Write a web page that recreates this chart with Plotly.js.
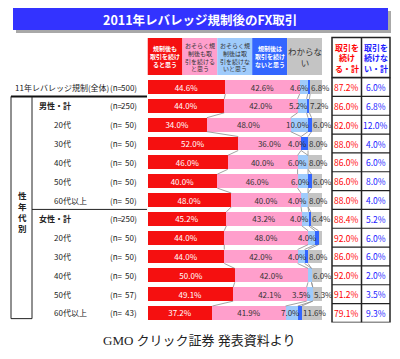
<!DOCTYPE html>
<html>
<head>
<meta charset="utf-8">
<script src="https://cdn.plot.ly/plotly-3.0.1.min.js"></script>
<style>html,body{margin:0;padding:0;background:#fff;}#chart{width:400px;height:359px;}</style>
</head>
<body>
<div id="chart"></div>
<script>
// ---- data ----
const categories = ['11年レバレッジ規制(全体)','男性・計','20代','30代','40代','50代','60代以上','女性・計','20代','30代','40代','50代','60代以上'];
const sampleN = [500,250,50,50,50,50,50,250,50,50,50,57,43];
const willContinue      = [44.6,44.0,34.0,52.0,46.0,40.0,48.0,45.2,44.0,44.0,50.0,49.1,37.2];
const probablyContinue  = [42.6,42.0,48.0,36.0,40.0,46.0,40.0,43.2,48.0,42.0,42.0,42.1,41.9];
const probablyStop      = [4.6,5.2,10.0,0,6.0,6.0,4.0,4.0,4.0,4.0,2.0,3.5,7.0];
const willStop          = [1.4,1.6,2.0,4.0,0,2.0,0,1.2,2.0,2.0,0,0,2.3];
const dontKnow          = [6.8,7.2,6.0,8.0,8.0,6.0,8.0,6.4,2.0,8.0,6.0,5.3,11.6];
const continueTotal     = [87.2,86.0,82.0,88.0,86.0,86.0,88.0,88.4,92.0,86.0,92.0,91.2,79.1];
const stopTotal         = [6.0,6.8,12.0,4.0,6.0,8.0,4.0,5.2,6.0,6.0,2.0,3.5,9.3];
const seriesNames = ['規制後も<br>取引を続け<br>ると思う','おそらく規<br>制後も取<br>引を続ける<br>と思う','おそらく規<br>制後は取<br>引を続けな<br>いと思う','規制後は<br>取引を続け<br>ないと思う','わからな<br>い'];
const totalHeaders = ['取引を<br>続け<br>る・計','取引を<br>続けな<br>い・計'];
const titleText = '2011年レバレッジ規制後のFX取引';
const sideLabel = '性<br>年<br>代<br>別';
const caption = 'GMO クリック証券 発表資料より';

// ---- styling ----
const FONT = '"Noto Sans CJK JP", "Noto Sans", sans-serif';
const colors = ['#f51010','#ff9fcc','#9fcbfb','#3366ff','#c4c4c4'];
const headerText = ['#ffffff','#333333','#333333','#ffffff','#333333'];
const labelColors = ['#ffffff','#333333','#333333','#333333','#333333'];
const series = [willContinue, probablyContinue, probablyStop, willStop, dontKnow];
const idx = categories.map((_, i) => i);
const W = 400, H = 359;
const px = x => x / W;
const py = y => 1 - y / H;
const bargap = 0.26;
const bw = 1 - bargap;

const fmt = v => v >= 3 ? v.toFixed(1) + '%' : '';

// large segments get centred inside labels; the three narrow ones are labelled by annotations
const traces = series.map((vals, s) => ({
  type: 'bar', orientation: 'h',
  x: vals, y: idx,
  marker: {color: colors[s], line: {width: 0}},
  text: s < 2 ? vals.map(fmt) : vals.map(() => ''),
  textposition: 'inside', insidetextanchor: 'middle',
  constraintext: 'none', textangle: 0,
  textfont: {family: FONT, size: 8, color: labelColors[s]},
  cliponaxis: false, hoverinfo: 'skip', showlegend: false
}));

const shapes = [];
const annotations = [];
const ann = o => annotations.push(Object.assign({showarrow:false, xanchor:'center', yanchor:'middle'}, o));

// title banner
shapes.push({type:'rect', xref:'paper', yref:'paper', x0:px(16), x1:px(391), y0:py(11), y1:py(33), fillcolor:'#a8a8a8', line:{width:0}});
shapes.push({type:'rect', xref:'paper', yref:'paper', x0:px(13), x1:px(388), y0:py(8), y1:py(30), fillcolor:'#3333ff', line:{width:0}});
ann({xref:'paper', yref:'paper', x:px(200), y:py(19.5), text:'<b>'+titleText+'</b>', font:{family:FONT, size:12.5, color:'#fff'}});

// legend header boxes
seriesNames.forEach((n, s) => {
  shapes.push({type:'rect', xref:'x', yref:'paper', x0:s*20, x1:(s+1)*20, y0:py(75), y1:py(38), fillcolor:colors[s], line:{width:0}});
  const bold = (s === 0 || s === 3);
  ann({xref:'x', yref:'paper', x:s*20+10, y:py(56.5), text: bold ? '<b>'+n+'</b>' : n, borderpad:0,
    font:{family:FONT, size: s === 4 ? 8.5 : 6, color:headerText[s]}, align:'center'});
});

// connector lines between consecutive bars
const cum = idx.map(i => { let c = 0; return series.slice(0,4).map(v => (c += v[i])); });
for (let i = 0; i < idx.length - 1; i++) {
  for (let k = 0; k < 4; k++) {
    shapes.push({type:'line', xref:'x', yref:'y', x0:cum[i][k], x1:cum[i+1][k], y0:i + bw/2, y1:i + 1 - bw/2, line:{color:'#8a8a8a', width:0.8}});
  }
}

// labels of the narrow segments: "not continue" labels end at the grey start, grey label starts there
idx.forEach(i => {
  const g0 = cum[i][3];
  const lbl = fmt(probablyStop[i]) || fmt(willStop[i]);
  if (lbl) ann({xref:'x', yref:'y', x:g0, y:i, xanchor:'right', xshift:-0.5, borderpad:0, text:lbl, font:{family:FONT, size:8, color:'#333'}});
  const gl = fmt(dontKnow[i]);
  if (gl) ann({xref:'x', yref:'y', x:g0, y:i, xanchor:'left', xshift:0, borderpad:0, text:gl, font:{family:FONT, size:8, color:'#333'}});
});

// row labels
categories.forEach((c, i) => {
  let x = 52, bold = false;
  if (c.indexOf('全体') >= 0) x = 13;
  else if (c.indexOf('計') >= 0) { x = 37; bold = true; }
  ann({xref:'paper', yref:'y', x:px(x), y:i, xanchor:'left', text: bold ? '<b>'+c+'</b>' : c, font:{family:FONT, size:8, color:'#222'}});
  ann({xref:'paper', yref:'y', x:px(108), y:i, xanchor:'left', text:'(n=', font:{family:FONT, size:8, color:'#222'}});
  ann({xref:'paper', yref:'y', x:px(139), y:i, xanchor:'right', text:sampleN[i]+')', font:{family:FONT, size:8, color:'#222'}});
});

// side group box
const lineK = {color:'#222', width:1};
shapes.push({type:'line', xref:'paper', yref:'y', x0:px(11), x1:px(147), y0:0.5, y1:0.5, line:{color:'#111', width:2}});
shapes.push({type:'line', xref:'paper', yref:'y', x0:px(11), x1:px(11), y0:0.5, y1:12.3, line:lineK});
shapes.push({type:'line', xref:'paper', yref:'y', x0:px(32), x1:px(32), y0:0.5, y1:12.3, line:lineK});
shapes.push({type:'line', xref:'paper', yref:'y', x0:px(11), x1:px(32), y0:12.3, y1:12.3, line:lineK});
shapes.push({type:'line', xref:'paper', yref:'y', x0:px(32), x1:px(147), y0:6.5, y1:6.5, line:lineK});
ann({xref:'paper', yref:'y', x:px(22), y:6.6, text:'<b>'+sideLabel+'</b>', font:{family:FONT, size:8.5, color:'#222'}});

// right-hand totals table
const tL = 332, tM = 361.5, tR = 390;
const tLine = {color:'#222', width:1.5};
shapes.push({type:'rect', xref:'paper', yref:'paper', x0:px(tL), x1:px(tR), y0:py(77.6), y1:py(37.5), line:tLine, fillcolor:'rgba(0,0,0,0)'});
shapes.push({type:'rect', xref:'paper', yref:'y', x0:px(tL), x1:px(tR), y0:-0.5, y1:12.5, line:tLine, fillcolor:'rgba(0,0,0,0)'});
shapes.push({type:'line', xref:'paper', yref:'paper', x0:px(tM), x1:px(tM), y0:py(37.5), y1:py(77.6), line:tLine});
shapes.push({type:'line', xref:'paper', yref:'y', x0:px(tM), x1:px(tM), y0:-0.5, y1:12.5, line:tLine});
for (let i = 0; i < idx.length - 1; i++) {
  shapes.push({type:'line', xref:'paper', yref:'y', x0:px(tL), x1:px(tR), y0:i+0.5, y1:i+0.5, line:{color:'#222', width:1.2}});
}
ann({xref:'paper', yref:'paper', x:px((tL+tM)/2), y:py(57.5), text:'<b>'+totalHeaders[0]+'</b>', font:{family:FONT, size:8, color:'#ff0000'}});
ann({xref:'paper', yref:'paper', x:px((tM+tR)/2), y:py(57.5), text:'<b>'+totalHeaders[1]+'</b>', font:{family:FONT, size:8, color:'#1a1aff'}});
idx.forEach(i => {
  ann({xref:'paper', yref:'y', x:px((tL+tM)/2), y:i, text:continueTotal[i].toFixed(1)+'%', font:{family:FONT, size:8.5, color:'#ff0000'}});
  ann({xref:'paper', yref:'y', x:px((tM+tR)/2), y:i, text:stopTotal[i].toFixed(1)+'%', font:{family:FONT, size:8.5, color:'#1a1aff'}});
});

// caption
ann({xref:'paper', yref:'paper', x:px(199), y:py(340), text:caption, font:{family:'"Liberation Serif", "Noto Sans CJK JP", serif', size:13, color:'#222'}});

const layout = {
  width: W, height: H,
  margin: {l:0, r:0, t:0, b:0},
  paper_bgcolor: '#ffffff', plot_bgcolor: 'rgba(0,0,0,0)',
  barmode: 'stack', bargap: bargap,
  showlegend: false,
  xaxis: {domain:[px(147.5), px(322)], range:[0,100], visible:false, fixedrange:true},
  yaxis: {domain:[py(322.4), py(77.6)], range:[12.5,-0.5], visible:false, fixedrange:true},
  shapes: shapes, annotations: annotations,
  font: {family: FONT}
};

Plotly.newPlot('chart', traces, layout, {displayModeBar:false, staticPlot:true});
</script>
</body>
</html>
